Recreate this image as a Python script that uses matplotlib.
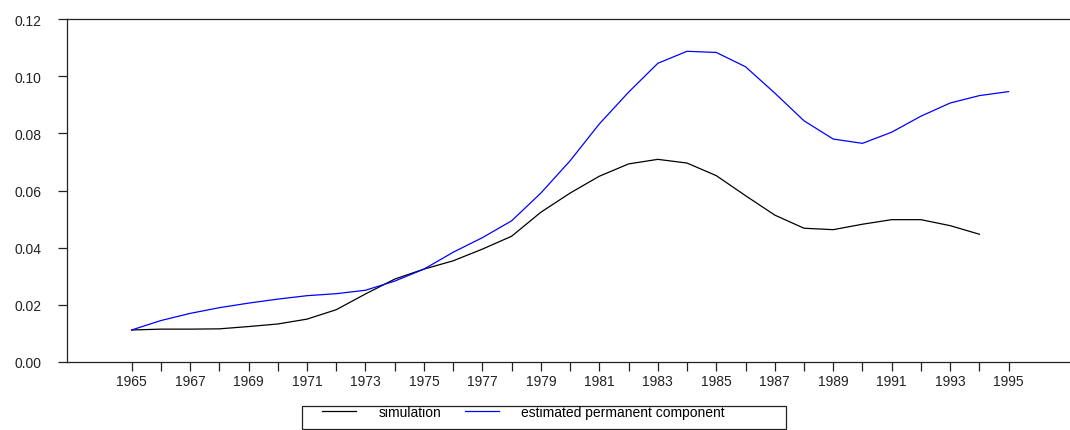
import numpy as np
import matplotlib
matplotlib.use("Agg")
import matplotlib.pyplot as plt
from matplotlib.patches import Rectangle

# anos e series
anos_sim = np.arange(1965, 1995)
simulacao = [0.0112, 0.0115, 0.0115, 0.0116, 0.0124, 0.0133, 0.0150, 0.0183,
             0.0238, 0.0290, 0.0325, 0.0354, 0.0395, 0.0440, 0.0524, 0.0591,
             0.0650, 0.0693, 0.0709, 0.0696, 0.0652, 0.0582, 0.0514, 0.0468,
             0.0463, 0.0482, 0.0498, 0.0498, 0.0477, 0.0447]

anos_perm = np.arange(1965, 1996)
permanente = [0.0112, 0.0145, 0.0170, 0.0190, 0.0206, 0.0220, 0.0232, 0.0239,
              0.0251, 0.0283, 0.0325, 0.0384, 0.0435, 0.0494, 0.0591, 0.0704,
              0.0833, 0.0944, 0.1045, 0.1087, 0.1083, 0.1033, 0.0941, 0.0844,
              0.0780, 0.0765, 0.0804, 0.0860, 0.0906, 0.0932, 0.0946]

rotulos_x = [str(a) for a in range(1965, 1996, 2)]
ticks_y = [0.00, 0.02, 0.04, 0.06, 0.08, 0.10, 0.12]

plt.rcParams['font.family'] = ['Liberation Sans', 'DejaVu Sans']
plt.rcParams['font.size'] = 10

fig = plt.figure(figsize=(10.70, 4.31), dpi=100)
ax = fig.add_axes([67 / 1070, 68 / 431, 1003 / 1070, 343 / 431])

l1, = ax.plot(anos_sim, simulacao, color="black", lw=0.9, label="simulation")
l2, = ax.plot(anos_perm, permanente, color="#0000ff", lw=0.9,
              label="estimated permanent component")

ax.set_xlim(1962.79, 1997.1)
ax.set_ylim(0, 0.12)
ax.set_xticks(np.arange(1965, 1996))
ax.set_xticklabels([str(a) if (a - 1965) % 2 == 0 else "" for a in range(1965, 1996)])
ax.set_yticks(ticks_y)
ax.set_yticklabels(["%.2f" % v for v in ticks_y])

ax.spines['right'].set_visible(False)
for s in ['left', 'top', 'bottom']:
    ax.spines[s].set_color("#222222")
    ax.spines[s].set_linewidth(0.9)
ax.tick_params(axis='y', length=6.5, width=0.9, pad=12, colors="#222222")
ax.tick_params(axis='x', length=6.3, width=0.9, pad=2, colors="#222222")

# caixa da legenda
fig.patches.append(Rectangle((301.7 / 1070, 1 / 431), 484 / 1070, 23.5 / 431,
                             transform=fig.transFigure, fill=False,
                             edgecolor="#222222", lw=0.9))
fig.legend(handles=[l1, l2], ncol=2, loc="center left",
           bbox_to_anchor=(322 / 1070, (431 - 413) / 431), frameon=False,
           borderpad=0, borderaxespad=0, handlelength=2.45,
           handletextpad=1.6, columnspacing=1.7)

fig.savefig("out.png", dpi=100)
